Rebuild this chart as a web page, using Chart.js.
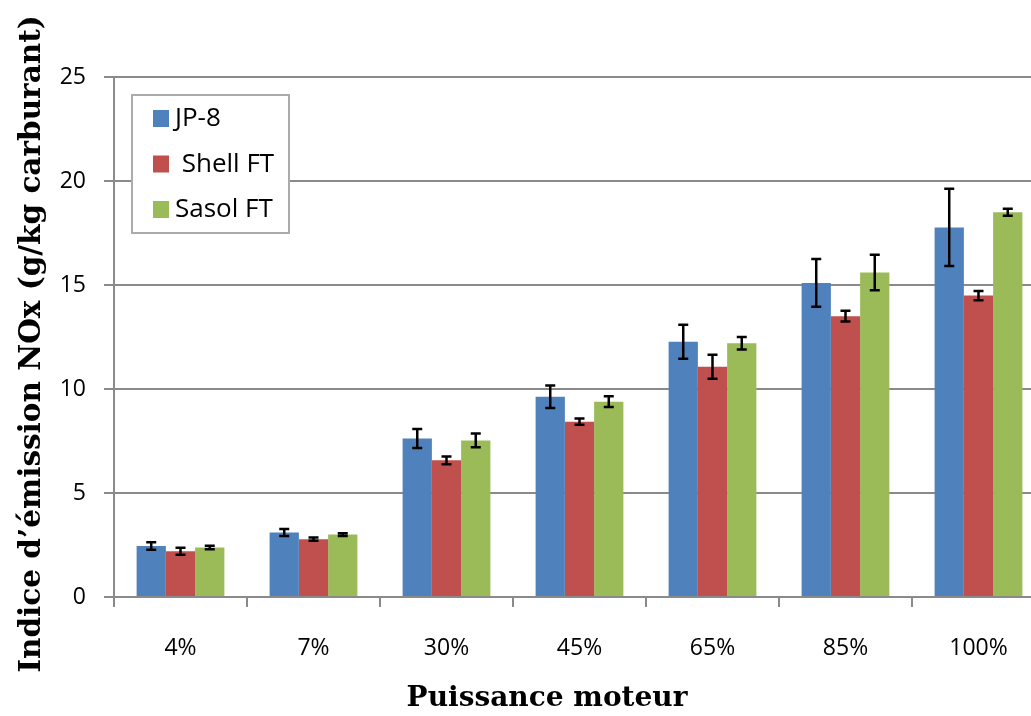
<!DOCTYPE html>
<html>
<head>
<meta charset="utf-8">
<script src="https://cdn.jsdelivr.net/npm/chart.js@4.4.0/dist/chart.umd.min.js"></script>
<style>
  html, body { margin: 0; padding: 0; background: #fff; overflow: hidden; }
</style>
</head>
<body>
<canvas id="noxChart" width="1045" height="716"></canvas>
<script>
// Données
const categories = ['4%', '7%', '30%', '45%', '65%', '85%', '100%'];
const seriesNames = ['JP-8', ' Shell FT', 'Sasol FT'];

const jp8 = [2.45, 3.1, 7.62, 9.63, 12.27, 15.1, 17.77];
const jp8Err = [0.18, 0.17, 0.46, 0.54, 0.82, 1.15, 1.86];
const shellFT = [2.2, 2.78, 6.57, 8.43, 11.07, 13.5, 14.49];
const shellErr = [0.17, 0.08, 0.19, 0.15, 0.58, 0.26, 0.22];
const sasolFT = [2.38, 3.0, 7.53, 9.39, 12.2, 15.6, 18.5];
const sasolErr = [0.08, 0.07, 0.33, 0.26, 0.3, 0.85, 0.17];

const yTicks = [0, 5, 10, 15, 20, 25];

const xTitle = 'Puissance moteur';
const yTitle = 'Indice d\u2019émission NOx (g/kg carburant)';

const colors = ['#4F81BD', '#C0504D', '#9BBB59'];
const gridGray = '#8a8a8a';

// barres d'erreur dessinées avec les échelles du graphique
const errorBars = {
    id: 'errorBars',
    afterDatasetsDraw(chart) {
        const ctx = chart.ctx;
        const yScale = chart.scales.y;
        ctx.save();
        ctx.strokeStyle = '#000';
        ctx.lineWidth = 2.5;
        chart.data.datasets.forEach((ds, di) => {
            const meta = chart.getDatasetMeta(di);
            meta.data.forEach((bar, i) => {
                const v = ds.data[i];
                const e = ds.errors[i];
                const yTop = yScale.getPixelForValue(v + e);
                const yBot = yScale.getPixelForValue(v - e);
                const x = bar.x;
                ctx.beginPath();
                ctx.moveTo(x, yTop); ctx.lineTo(x, yBot);
                ctx.moveTo(x - 5, yTop); ctx.lineTo(x + 5, yTop);
                ctx.moveTo(x - 5, yBot); ctx.lineTo(x + 5, yBot);
                ctx.stroke();
            });
        });
        ctx.restore();
    }
};

// légende encadrée + titres des axes
const boxLegend = {
    id: 'boxLegend',
    afterDraw(chart) {
        const ctx = chart.ctx;
        const area = chart.chartArea;
        const x0 = area.left + 18, y0 = area.top + 18;
        const w = 157, h = 138;
        ctx.save();
        ctx.fillStyle = '#fff';
        ctx.fillRect(x0, y0, w, h);
        ctx.strokeStyle = '#ababab';
        ctx.lineWidth = 2;
        ctx.strokeRect(x0, y0, w, h);
        ctx.font = '26px "Open Sans"';
        ctx.textBaseline = 'middle';
        chart.data.datasets.forEach((ds, i) => {
            const cy = y0 + 23 + i * 45.5;
            ctx.fillStyle = ds.backgroundColor;
            ctx.fillRect(x0 + 21, cy - 8, 16, 17);
            ctx.fillStyle = '#000';
            ctx.fillText(ds.label, x0 + 43, cy + 1);
        });

        // titres (le cadre du graphique d'origine dépasse à droite)
        ctx.fillStyle = '#000';
        ctx.textAlign = 'center';
        ctx.font = 'bold 28px "DejaVu Serif"';
        ctx.fillText(xTitle, 547, 699);
        ctx.translate(32, 344);
        ctx.rotate(-Math.PI / 2);
        ctx.font = 'bold 29.5px "DejaVu Serif"';
        ctx.fillText(yTitle, 0, 0);
        ctx.restore();
    }
};

function makeDataset(label, data, errors, color) {
    return {
        label: label,
        data: data,
        errors: errors,
        backgroundColor: color,
        borderWidth: 0,
        barPercentage: 1.0,
        categoryPercentage: 0.66
    };
}

new Chart(document.getElementById('noxChart'), {
    type: 'bar',
    data: {
        labels: categories,
        datasets: [
            makeDataset(seriesNames[0], jp8, jp8Err, colors[0]),
            makeDataset(seriesNames[1], shellFT, shellErr, colors[1]),
            makeDataset(seriesNames[2], sasolFT, sasolErr, colors[2])
        ]
    },
    options: {
        responsive: false,
        animation: false,
        layout: { padding: { top: 77, right: 0, left: 0, bottom: 0 } },
        plugins: {
            legend: { display: false },
            tooltip: { enabled: false }
        },
        scales: {
            x: {
                grid: {
                    offset: true,
                    drawOnChartArea: false,
                    drawTicks: true,
                    tickLength: 10,
                    color: gridGray,
                    lineWidth: 2
                },
                border: { color: gridGray, width: 2 },
                ticks: {
                    color: '#000',
                    padding: 28,
                    font: { family: '"Open Sans"', size: 23 }
                },
                afterFit(scale) { scale.height = 716 - 597; }
            },
            y: {
                min: 0,
                max: 25,
                afterBuildTicks(scale) { scale.ticks = yTicks.map(v => ({ value: v })); },
                grid: {
                    color: gridGray,
                    lineWidth: 2,
                    drawTicks: true,
                    tickLength: 10
                },
                border: { color: gridGray, width: 2 },
                ticks: {
                    color: '#000',
                    padding: 18,
                    font: { family: '"Open Sans"', size: 23 }
                },
                afterFit(scale) { scale.width = 114; }
            }
        }
    },
    plugins: [errorBars, boxLegend]
});
</script>
</body>
</html>
